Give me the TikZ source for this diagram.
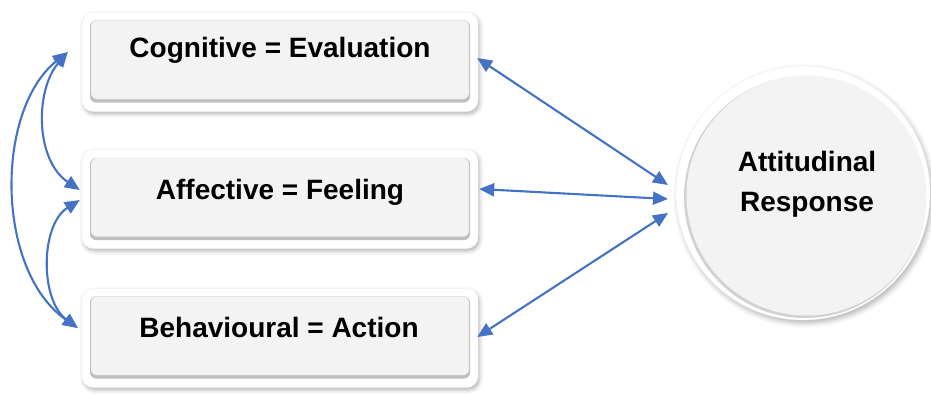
\documentclass[tikz,border=0pt]{standalone}
\usepackage{fontspec}
\setmainfont{Liberation Sans}
\usetikzlibrary{arrows.meta,shadows.blur,calc}
\definecolor{linkblue}{HTML}{4472C4}
\definecolor{face}{HTML}{F3F3F3}

\begin{document}
\begin{tikzpicture}[x=1pt,y=-1pt,
  frame/.style={draw=gray!12, line width=0.4pt, fill=white, rounded corners=11pt,
    minimum width=396pt, minimum height=99pt, inner sep=0pt,
    blur shadow={shadow xshift=1.5pt, shadow yshift=-2.5pt, shadow blur radius=4pt, shadow opacity=30}},
  rim/.style={fill=gray!50, rounded corners=6pt, minimum width=380pt, minimum height=82pt, inner sep=0pt},
  panel/.style={fill=face, draw=gray!25, line width=0.3pt, rounded corners=6pt,
    minimum width=378pt, minimum height=78.5pt, inner sep=0pt},
  label/.style={font=\bfseries\fontsize{28}{40}\selectfont, inner sep=0pt, align=center},
  ring/.style={circle, draw=gray!12, line width=0.4pt, fill=white, minimum size=254pt, inner sep=0pt,
    blur shadow={shadow xshift=2pt, shadow yshift=-3pt, shadow blur radius=5pt, shadow opacity=30}},
  disc/.style={circle, fill=gray!35, minimum size=242pt, inner sep=0pt},
  discface/.style={circle, fill=face, minimum size=240pt, inner sep=0pt},
  link/.style={draw=linkblue, line width=2.1pt,
    {Triangle[length=15pt,width=13pt]}-{Triangle[length=15pt,width=13pt]}}
]
\useasboundingbox (0,0) rectangle (931,394);

% three component boxes
\node[frame] (cog) at (280,62) {};
\node[rim] (cogrim) at (280,61.5) {};
\node[panel] (cogface) at (280,59.8) {};
\node[label] (cogt) at (280,50) {Cognitive = Evaluation};

\node[frame] (aff) at (280,199) {};
\node[rim] (affrim) at (280,199) {};
\node[panel] (affface) at (280,197.3) {};
\node[label] (afft) at (280,192) {Affective = Feeling};

\node[frame] (beh) at (280,338) {};
\node[rim] (behrim) at (280,337.5) {};
\node[panel] (behface) at (280,335.8) {};
\node[label] (beht) at (279,327) {Behavioural = Action};

% response circle
\node[ring] (att) at (803,193) {};
\node[disc] (attdisc) at (805,197) {};
\node[discface] (attface) at (806.5,195.5) {};
\node[label] (attt) at (807,184) {Attitudinal\\Response};

% arrow end points
\coordinate (cogR) at ($(cog.east)+(-1,-4)$);
\coordinate (affR) at ($(aff.east)+(1,-10)$);
\coordinate (behR) at ($(beh.east)+(-1,-1)$);
\coordinate (attA) at ($(att.center)+(-135,-8)$);
\coordinate (attB) at ($(att.center)+(-135,6)$);
\coordinate (attC) at ($(att.center)+(-135,20)$);
\coordinate (cogL) at ($(cog.west)+(-14,-10)$);
\coordinate (affLa) at ($(aff.west)+(-2,-9)$);
\coordinate (affLb) at ($(aff.west)+(-2,1)$);
\coordinate (behL) at ($(beh.west)+(-4,-10)$);

% links to the response
\draw[link] (cogR) -- (attA);
\draw[link] (affR) -- (attB);
\draw[link] (behR) -- (attC);

% links between the components
\draw[link] (cogL) .. controls (-5,110) and (-5,270) .. (behL);
\draw[link] (cogL) .. controls (35,90) and (35,160) .. (affLa);
\draw[link] (affLb) .. controls (40,225) and (40,300) .. (behL);
\end{tikzpicture}
\end{document}
